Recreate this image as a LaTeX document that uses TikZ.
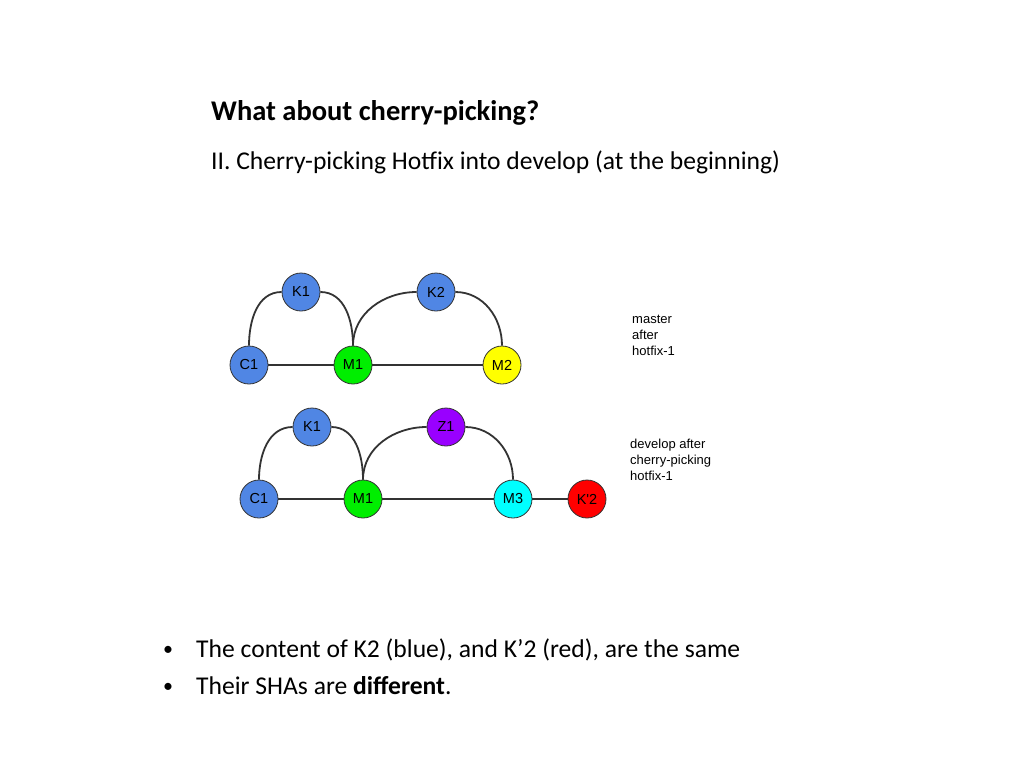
\documentclass[tikz,border=0pt]{standalone}
\usepackage{fontspec}
\setmainfont{Carlito}
\newfontfamily\arialfont{Liberation Sans}
\usepackage{xcolor}
\definecolor{colBlue}{RGB}{80,134,228}
\definecolor{colGreen}{RGB}{0,238,0}
\definecolor{colYellow}{RGB}{255,255,0}
\definecolor{colPurple}{RGB}{153,0,255}
\definecolor{colCyan}{RGB}{0,255,255}
\definecolor{colRed}{RGB}{255,0,0}
\definecolor{colLine}{RGB}{51,51,51}
\usepackage{tikz}
\usetikzlibrary{positioning}
\tikzset{
	commit/.style={circle, draw=colLine, line width=0.8pt, minimum size=38pt, inner sep=0pt, fill=#1, font=\arialfont\fontsize{14.5}{16}\selectfont},
	branchline/.style={draw=colLine, line width=1.8pt},
	branchlabel/.style={anchor=north west, align=left, inner sep=0pt, font=\arialfont\fontsize{13}{16}\selectfont},
	slidetext/.style={anchor=base west, inner sep=0pt, font=\fontsize{25.6}{30}\selectfont},
	bulletmark/.style={anchor=base west, inner sep=0pt, font=\fontsize{20}{22}\selectfont},
}

\begin{document}
\begin{tikzpicture}[x=1pt, y=-1pt]
				\useasboundingbox (0,0) rectangle (1024,768);
				\fill[white] (0,0) rectangle (1024,768);
				% heading
				\node[slidetext, font=\bfseries\fontsize{28.5}{32}\selectfont] (title) at (211,120) {What about cherry-picking?};
				\node[slidetext] (subtitle) at (211,169) {II. Cherry-picking Hotfix into develop (at the beginning)};
				% master after hotfix-1
				\node[commit=colBlue] (c1) at (249,365) {C1};
				\node[commit=colGreen] (m1) at (353,365) {M1};
				\node[commit=colYellow] (m2) at (502,365) {M2};
				\node[commit=colBlue] (k1) at (301,292) {K1};
				\node[commit=colBlue] (k2) at (436,292) {K2};
				\draw[branchline] (c1) -- (m1);
				\draw[branchline] (m1) -- (m2);
				\draw[branchline] (c1.north) to[out=90, in=180] (k1.west);
				\draw[branchline] (k1.east) to[out=0, in=90] (m1.north);
				\draw[branchline] (m1.north) to[out=90, in=180] (k2.west);
				\draw[branchline] (k2.east) to[out=0, in=90] (m2.north);
				\node[branchlabel] (masterlbl) at (632,315) {master\\after\\hotfix-1};
				% develop after cherry-picking
				\node[commit=colBlue] (dc1) at (259,499) {C1};
				\node[commit=colGreen] (dm1) at (363,499) {M1};
				\node[commit=colCyan] (dm3) at (513,499) {M3};
				\node[commit=colRed] (dk2) at (587,499) {K'2};
				\node[commit=colBlue] (dk1) at (312,427) {K1};
				\node[commit=colPurple] (dz1) at (446,427) {Z1};
				\draw[branchline] (dc1) -- (dm1);
				\draw[branchline] (dm1) -- (dm3);
				\draw[branchline] (dm3) -- (dk2);
				\draw[branchline] (dc1.north) to[out=90, in=180] (dk1.west);
				\draw[branchline] (dk1.east) to[out=0, in=90] (dm1.north);
				\draw[branchline] (dm1.north) to[out=90, in=180] (dz1.west);
				\draw[branchline] (dz1.east) to[out=0, in=90] (dm3.north);
				\node[branchlabel] (developlbl) at (630,439) {develop after\\cherry-picking\\hotfix-1};
				% bullets
				\node[bulletmark] (bullet1) at (163,655) {•};
				\node[slidetext] (point1) at (196,657) {The content of K2 (blue), and K’2 (red), are the same};
				\node[bulletmark] (bullet2) at (163,692) {•};
				\node[slidetext] (point2) at (196,694) {Their SHAs are \textbf{different}.};
			\end{tikzpicture}
\end{document}
